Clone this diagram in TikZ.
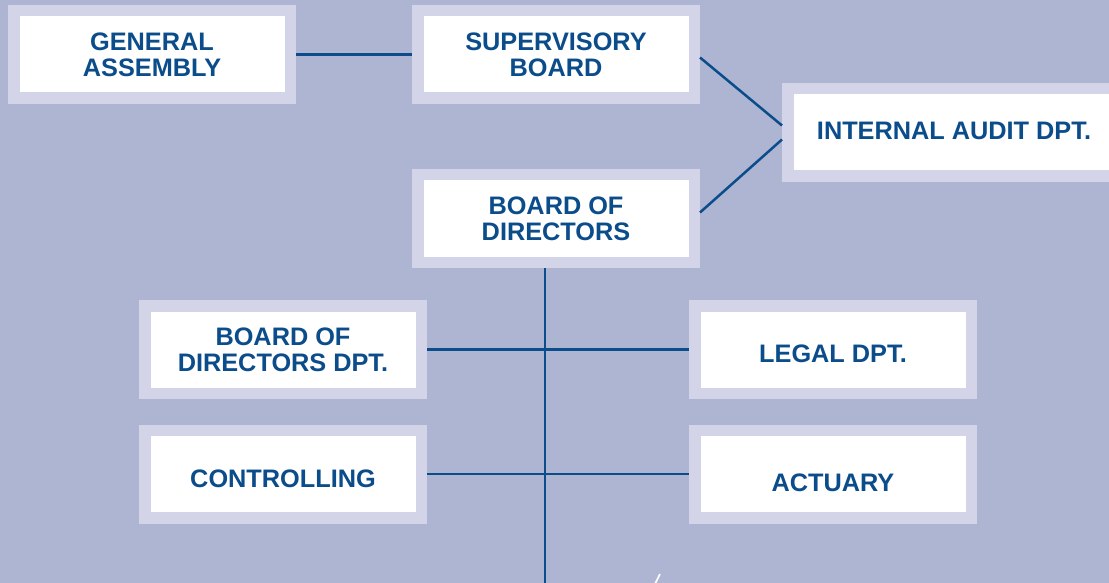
\documentclass[tikz,border=0pt]{standalone}
\usepackage{fontspec}
\setmainfont{Liberation Sans}
\definecolor{bgc}{HTML}{AEB5D3}
\definecolor{rimc}{HTML}{D3D4E7}
\definecolor{inkc}{HTML}{0B4C8A}
\begin{document}
\begin{tikzpicture}[x=1pt,y=-1pt,
  orgbox/.style={draw=rimc, line width=11.5pt, fill=white,
    minimum width=276.5pt, minimum height=87.5pt, inner sep=0pt,
    align=center, text=inkc,
    font=\fontsize{25.3}{26}\selectfont\bfseries},
  textoff/.style={text height=#1, text depth=0pt},
  link/.style={draw=inkc, line width=2.5pt}]
\clip (0,0) rectangle (1109,583);
\fill[bgc] (0,0) rectangle (1109,583);
\node[orgbox] (ga) at (152,54.5) {GENERAL\\ASSEMBLY};
\node[orgbox] (sb) at (556,54.5) {SUPERVISORY\\BOARD};
\node[orgbox] (bod) at (556,218.5) {BOARD OF\\DIRECTORS};
\node[orgbox, minimum width=332.5pt, textoff=15pt] (ia) at (954,132.5) {INTERNAL AUDIT DPT.};
\node[orgbox] (bdd) at (283,349.5) {BOARD OF\\DIRECTORS DPT.};
\node[orgbox, textoff=26pt] (ctrl) at (283,474) {CONTROLLING};
\node[orgbox, textoff=25pt] (legal) at (833,349.5) {LEGAL DPT.};
\node[orgbox, textoff=34pt] (act) at (833,474) {ACTUARY};
\coordinate (bottom) at (545,590);
\coordinate (slashA) at (655,584);
\coordinate (slashB) at (660,574);
\draw[link] (ga.east) -- (sb.west);
\draw[link] ([yshift=-3pt]sb.east) -- ([yshift=7pt]ia.west);
\draw[link] ([yshift=6pt]bod.east) -- ([yshift=-7pt]ia.west);
\draw[link] ([xshift=-11pt]bod.south) -- (bottom);
\draw[link] (bdd.east) -- (legal.west);
\draw[link] (ctrl.east) -- (act.west);
\draw[white, line width=1.6pt] (slashA) -- (slashB);
\end{tikzpicture}
\end{document}
